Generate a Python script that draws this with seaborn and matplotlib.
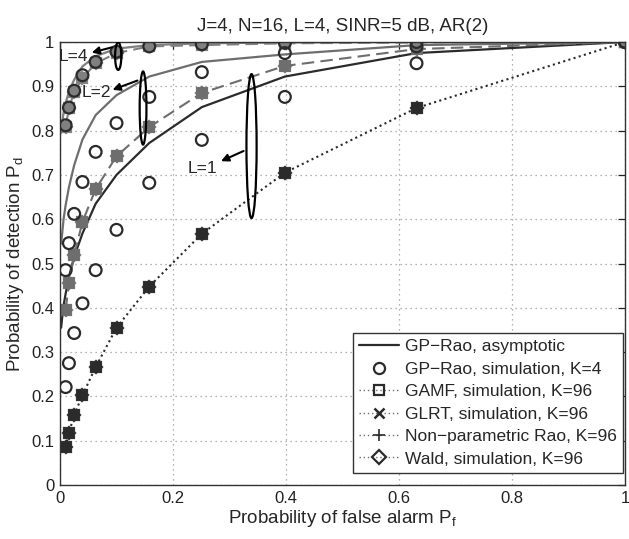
import matplotlib
matplotlib.use("Agg")
import matplotlib.pyplot as plt
import seaborn as sns
import pandas as pd
from matplotlib.patches import Ellipse
from matplotlib.lines import Line2D

# ---------------- data ----------------
pf_sim = [1.0, 0.631, 0.398, 0.251, 0.158, 0.100, 0.0631, 0.0398, 0.0251, 0.0158, 0.0100]
pf_asym = [1.0, 0.631, 0.398, 0.251, 0.158, 0.100, 0.0631, 0.0398, 0.0251, 0.0158, 0.0100,
           0.0063, 0.0040, 0.0020]

# GP-Rao asymptotic
asym_L1 = [1.0, 0.975, 0.922, 0.853, 0.772, 0.700, 0.635, 0.568, 0.515, 0.470, 0.432,
           0.405, 0.380, 0.355]
asym_L2 = [1.0, 0.993, 0.972, 0.955, 0.922, 0.880, 0.835, 0.780, 0.722, 0.672, 0.632,
           0.600, 0.570, 0.545]
asym_L4 = [1.0, 1.0, 0.999, 0.997, 0.993, 0.985, 0.968, 0.945, 0.915, 0.888, 0.862,
           0.840, 0.818, 0.795]

# GP-Rao simulation, K=4
rao_sim_L1 = [1.0, 0.952, 0.876, 0.779, 0.682, 0.576, 0.485, 0.410, 0.343, 0.275, 0.221]
rao_sim_L2 = [1.0, 0.990, 0.975, 0.932, 0.876, 0.817, 0.752, 0.684, 0.612, 0.546, 0.485]
rao_sim_L4 = [1.0, 1.0, 0.998, 0.995, 0.990, 0.978, 0.955, 0.925, 0.890, 0.852, 0.812]

# GAMF / GLRT / Non-parametric Rao / Wald, K=96
k96_A = [1.0, 0.851, 0.705, 0.567, 0.448, 0.355, 0.266, 0.203, 0.158, 0.117, 0.086]
k96_B = [1.0, 0.984, 0.946, 0.885, 0.808, 0.742, 0.668, 0.594, 0.519, 0.456, 0.395]
k96_C = [1.0, 0.999, 0.997, 0.993, 0.990, 0.975, 0.952, 0.918, 0.887, 0.851, 0.808]

detector_markers = ["s", "x", "+", "D"]
legend_labels = ["GP\u2212Rao, asymptotic", "GP\u2212Rao, simulation, K=4",
                 "GAMF, simulation, K=96", "GLRT, simulation, K=96",
                 "Non\u2212parametric Rao, K=96", "Wald, simulation, K=96"]

# ---------------- figure ----------------
sns.set_theme(style="white")
plt.rcParams["font.family"] = ["Liberation Sans", "DejaVu Sans"]
plt.rcParams["mathtext.fontset"] = "custom"
plt.rcParams["mathtext.rm"] = "Liberation Sans"

fig = plt.figure(figsize=(6.29, 5.39), dpi=100)
ax = fig.add_axes([60 / 629, 1 - 485 / 539, 565 / 629, 443 / 539])

dark = "#2b2b2b"
gray = "#6e6e6e"
lgray = "#808080"

# asymptotic curves
for vals, col in [(asym_L1, dark), (asym_L2, gray), (asym_L4, lgray)]:
    df = pd.DataFrame({"pf": pf_asym, "pd": vals})
    sns.lineplot(data=df, x="pf", y="pd", ax=ax, color=col, lw=1.6,
                 estimator=None, sort=True, legend=False)

# K=96 simulations
groups = [(k96_A, dark, (0, (1, 1.6))), (k96_B, gray, (0, (6, 3))), (k96_C, lgray, (0, (6, 3)))]
for vals, col, ls in groups:
    df = pd.DataFrame({"pf": pf_sim, "pd": vals})
    sns.lineplot(data=df, x="pf", y="pd", ax=ax, color=col, lw=1.5,
                 linestyle=ls, estimator=None, sort=True, legend=False)
    for mk in detector_markers:
        ax.plot(df["pf"], df["pd"], linestyle="none", marker=mk, ms=6.5,
                mfc=col if mk in ("s", "D") else "none", mec=col, mew=1.6, alpha=0.95)

# GP-Rao simulation circles
for vals in [rao_sim_L1, rao_sim_L2, rao_sim_L4]:
    df = pd.DataFrame({"pf": pf_sim, "pd": vals})
    sns.scatterplot(data=df, x="pf", y="pd", ax=ax, marker="o", s=72,
                    facecolor="none", edgecolor=dark, linewidth=1.6, legend=False,
                    zorder=4)

# annotations: ellipses, arrows, labels
ellipses = [(0.103, 0.968, 0.011, 0.062), (0.147, 0.851, 0.012, 0.165), (0.339, 0.765, 0.018, 0.325)]
for cx, cy, w, h in ellipses:
    ax.add_patch(Ellipse((cx, cy), w, h, fill=False, ec="black", lw=1.6, zorder=6))

arrow_kw = dict(arrowstyle="-|>", color="black", lw=1.5, mutation_scale=11, shrinkA=0, shrinkB=0)
ax.annotate("", xy=(0.056, 0.976), xytext=(0.092, 0.988), arrowprops=arrow_kw, zorder=6)
ax.text(0.024, 0.968, "L=4", fontsize=12.5, ha="center", va="center", zorder=7)
ax.annotate("", xy=(0.093, 0.892), xytext=(0.137, 0.913), arrowprops=arrow_kw, zorder=6)
ax.text(0.064, 0.885, "L=2", fontsize=12.5, ha="center", va="center", zorder=7)
ax.annotate("", xy=(0.285, 0.731), xytext=(0.325, 0.754), arrowprops=arrow_kw, zorder=6)
ax.text(0.252, 0.714, "L=1", fontsize=12.5, ha="center", va="center", zorder=7)

# axes styling
ax.set_xlim(0, 1)
ax.set_ylim(0, 1)
ax.set_xticks([0, 0.2, 0.4, 0.6, 0.8, 1])
ax.set_xticklabels(["0", "0.2", "0.4", "0.6", "0.8", "1"])
ax.set_yticks([i / 10 for i in range(11)])
ax.set_yticklabels(["0"] + [f"{i / 10:.1f}" for i in range(1, 10)] + ["1"])
ax.tick_params(direction="in", length=5, width=0.9, top=True, right=True,
               labelsize=12, colors="#222222", pad=4)
ax.grid(True, linestyle=(0, (1, 3)), color="#9a9a9a", linewidth=0.9)
for s in ax.spines.values():
    s.set_color("#333333")
    s.set_linewidth(1.0)
ax.set_xlabel(r"Probability of false alarm P$_\mathregular{f}$", fontsize=13.5, labelpad=2)
ax.set_ylabel(r"Probability of detection P$_\mathregular{d}$", fontsize=13.5, labelpad=4)
ax.set_title("J=4, N=16, L=4, SINR=5 dB, AR(2)", fontsize=13.5, pad=8)

# legend
handles = [
    Line2D([], [], color=dark, lw=1.6),
    Line2D([], [], color=dark, lw=0, marker="o", ms=8, mfc="none", mew=1.6),
    Line2D([], [], color=gray, lw=1.0, ls=(0, (1, 2)), marker="s", ms=7, mfc="none", mec=dark, mew=1.6),
    Line2D([], [], color=gray, lw=1.0, ls=(0, (1, 2)), marker="x", ms=7, mec=dark, mew=1.8),
    Line2D([], [], color=gray, lw=1.0, ls=(0, (1, 2)), marker="+", ms=8, mec=dark, mew=1.2),
    Line2D([], [], color=gray, lw=1.0, ls=(0, (1, 2)), marker="D", ms=7, mfc="none", mec=dark, mew=1.6),
]
leg = ax.legend(handles, legend_labels, loc="lower right", bbox_to_anchor=(0.997, 0.028),
                fontsize=12.5, frameon=True, fancybox=False, edgecolor="#333333",
                framealpha=1, handlelength=2.3, handletextpad=0.35, labelspacing=0.42,
                borderpad=0.35, borderaxespad=0)
leg.get_frame().set_linewidth(1.0)
leg.set_zorder(10)

fig.savefig("out.png", dpi=100)
